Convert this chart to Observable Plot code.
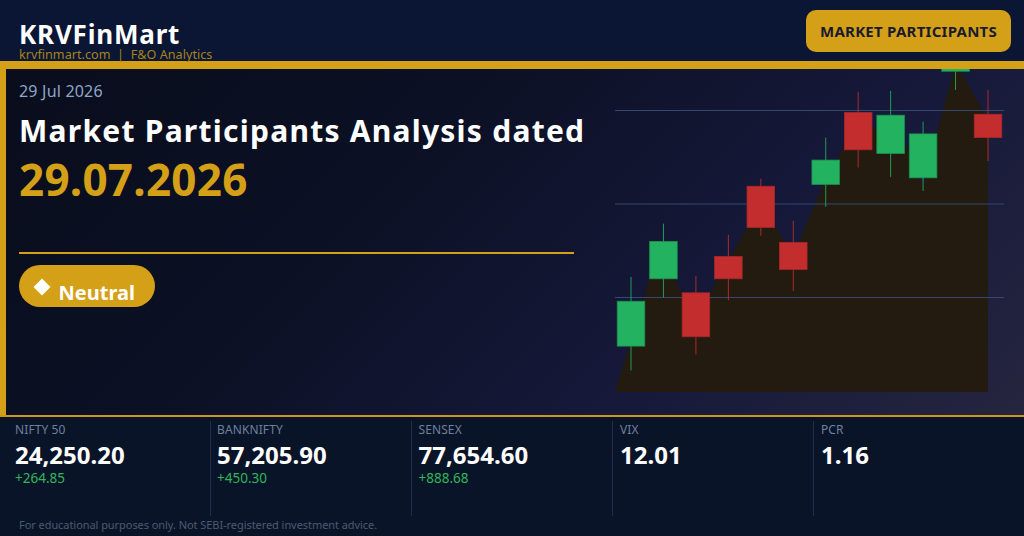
<!DOCTYPE html>
<html>
<head>
<meta charset="utf-8">
<script src="https://cdn.jsdelivr.net/npm/d3@7"></script>
<script src="https://cdn.jsdelivr.net/npm/@observablehq/plot@0.6"></script>
<style>
html,body{margin:0;padding:0;background:#0a1428;overflow:hidden}
#page{position:relative;width:1024px;height:536px;overflow:hidden;font-family:"Noto Sans",sans-serif;background:#0a1428}
#page div{position:absolute;white-space:nowrap;line-height:1}
#header{left:0;top:0;width:1024px;height:61px;background:#0a1633}
#panel{left:0;top:69px;width:1024px;height:346px;background:linear-gradient(135deg,#090d1c 0%,#0b1024 35%,#16193a 70%,#25253f 100%)}
#chart{left:600px;top:69px;width:424px;height:346px;overflow:hidden}
#chart svg{display:block;background:transparent}
#goldTop{left:0;top:61px;width:1024px;height:8px;background:#d4a017}
#goldLeft{left:0;top:69px;width:6px;height:346px;background:#d4a017}
#goldBottom{left:0;top:415px;width:1024px;height:2px;background:#c9981a}
#footer{left:0;top:417px;width:1024px;height:119px;background:#0a1428}
</style>
</head>
<body>
<div id="page">
<div id="header"></div>
<div id="panel"></div>
<div id="chart"></div>
<div id="goldTop"></div><div id="goldLeft"></div>
<div id="goldBottom"></div><div id="footer"></div>
<div id="text"></div>
</div>
<script>
const sessions = [0,1,2,3,4,5,6,7,8,9,10,11];
const opens  = [48, 120, 105, 144, 175, 130, 221, 258, 254, 228, 342, 271];
const closes = [96, 160, 58, 120, 219, 159, 247, 298, 295, 275, 354, 296];
const highs  = [122, 179, 123, 167, 227, 182, 271, 320, 321, 288, 347, 322];
const lows   = [22, 100, 39, 97, 166, 107, 197, 239, 229, 214, 322, 246];
const direction = ["up","up","down","down","down","down","up","down","up","up","up","down"];

const areaSessions = [-0.49, 0.83, 2, 4, 5, 6, 7, 8, 8.49, 9, 10, 11];
const areaValues   = [-1, 151, 78, 201, 145, 227, 288, 272, 262, 220, 352, 290];

const gridLevels = [100, 200, 300];

const candles = sessions.map((s,i)=>({s,open:opens[i],close:closes[i],high:highs[i],low:lows[i],dir:direction[i]}));
const band = areaSessions.map((s,i)=>({s,v:areaValues[i]}));
const halfBody = 0.425;
const candleColor = {up:"#23b25f",down:"#c42d2d"};
const candleEdge = {up:"#1d8f50",down:"#a5282c"};

const chart = Plot.plot({
  width:424, height:346, marginLeft:31, marginRight:36, marginTop:0, marginBottom:24,
  x:{domain:[0,11],axis:null},
  y:{domain:[0,344.4],axis:null},
  style:{background:"transparent"},
  marks:[
    Plot.areaY(band,{x:"s",y1:-1,y2:"v",fill:"#231a10"}),
    Plot.ruleY(gridLevels,{x1:-0.49,x2:11.49,stroke:"#33496e",strokeWidth:1,dy:-0.5}),
    Plot.ruleX(candles,{x:"s",y1:"low",y2:"high",stroke:d=>candleColor[d.dir],strokeWidth:1,strokeOpacity:0.85,dx:-0.5}),
    Plot.rect(candles,{x1:d=>d.s-halfBody,x2:d=>d.s+halfBody,y1:"open",y2:"close",fill:d=>candleColor[d.dir],stroke:d=>candleEdge[d.dir],strokeWidth:0.8})
  ]
});
document.getElementById("chart").appendChild(chart);

const labels=[
 {t:"KRVFinMart",x:19,b:43.5,s:26,w:700,c:"#ffffff",ls:0.8},
 {t:"krvfinmart.com  |  F&O Analytics",x:19,b:59.5,s:12.6,w:400,c:"#a6831c",pre:true,ls:0.03},
 {t:"29 Jul 2026",x:19,b:97,s:16,w:400,c:"#8ea6c8",ls:0.2},
 {t:"Market Participants Analysis dated",x:19,b:142,s:30,w:700,c:"#ffffff",ls:1.25},
 {t:"29.07.2026",x:19,b:194.5,s:44,w:700,c:"#d4a017",ls:0.25},
];
const names=["NIFTY 50","BANKNIFTY","SENSEX","VIX","PCR"];
const values=["24,250.20","57,205.90","77,654.60","12.01","1.16"];
const changes=["+264.85","+450.30","+888.68","",""];
const colX=[15,217,418.5,620,821];
names.forEach((n,i)=>{
  labels.push({t:n,x:colX[i],b:434.5,s:12,w:400,c:"#6e809c",ls:0.1});
  labels.push({t:values[i],x:colX[i],b:464,s:24,w:700,c:"#ffffff"});
  if(changes[i]) labels.push({t:changes[i],x:colX[i],b:483.6,s:13.5,w:400,c:"#2fb65a"});
});
labels.push({t:"For educational purposes only. Not SEBI-registered investment advice.",x:19,b:528.4,s:11,w:400,c:"#4a5a72",ls:-0.06});
const host=document.getElementById("text");
function add(css,txt){const d=document.createElement("div");d.style.cssText=css;if(txt)d.textContent=txt;host.appendChild(d);return d}
add("left:19px;top:252px;width:555px;height:2px;background:#d4a017");
add("left:19px;top:265px;width:136px;height:42px;border-radius:21px;background:#d4a017");
add("left:806px;top:10px;width:205px;height:42px;border-radius:10px;background:#d4a017");
[209.5,410.5,611.5,813].forEach(x=>add(`left:${x}px;top:421px;width:1px;height:95px;background:#1f2f48`));
add("left:35.5px;top:280.5px;width:12px;height:12px;background:#fff;transform:rotate(45deg)");
add("left:58.5px;top:283px;font-size:20px;font-weight:700;color:#fff","Neutral");
add("left:820px;top:24px;font-size:15px;font-weight:700;color:#1a1a2e;letter-spacing:0.26px","MARKET PARTICIPANTS");
labels.forEach(l=>{
  add(`left:${l.x}px;top:${l.b-l.s*0.857}px;font-size:${l.s}px;font-weight:${l.w};color:${l.c};letter-spacing:${l.ls||0}px;${l.pre?"white-space:pre;":""}`,l.t);
});
</script>
</body>
</html>
